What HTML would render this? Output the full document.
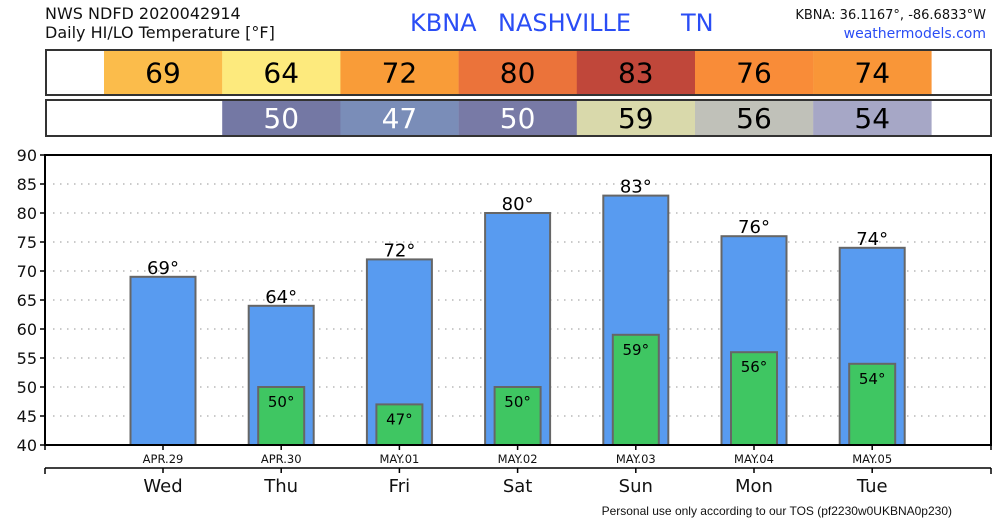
<!DOCTYPE html>
<html><head><meta charset="utf-8"><style>
body{margin:0;background:#fff;width:1000px;height:520px;overflow:hidden;font-family:"DejaVu Sans","Liberation Sans",sans-serif}
</style></head><body>
<svg width="1000" height="520" xmlns="http://www.w3.org/2000/svg" font-family="DejaVu Sans, Liberation Sans, sans-serif">
<text x="45" y="19" font-size="16" fill="#111">NWS NDFD 2020042914</text>
<text x="45" y="38" font-size="16" fill="#111">Daily HI/LO Temperature [°F]</text>
<text x="410" y="31" font-size="24" fill="#2a4df5">KBNA</text>
<text x="498" y="31" font-size="24" fill="#2a4df5">NASHVILLE</text>
<text x="681" y="31" font-size="24" fill="#2a4df5">TN</text>
<text x="986" y="19" font-size="13" fill="#111" text-anchor="end">KBNA: 36.1167°, -86.6833°W</text>
<text x="986" y="38" font-size="14" fill="#2a4df5" text-anchor="end">weathermodels.com</text>
<g id="boxes"></g>
<g id="plot"></g>
<text x="952" y="515" font-size="12" fill="#111" text-anchor="end" font-family="Liberation Sans, sans-serif">Personal use only according to our TOS (pf2230w0UKBNA0p230)</text>
</svg>
<script>
const days=["Wed","Thu","Fri","Sat","Sun","Mon","Tue"];
const dates=["APR.29","APR.30","MAY.01","MAY.02","MAY.03","MAY.04","MAY.05"];
const hi=[69,64,72,80,83,76,74];
const lo=[null,50,47,50,59,56,54];
const hiColors=["#fbbc4b","#fdea7d","#f99c38","#eb733a","#c0473a","#f98c38","#f99638"];
const loColors=[null,"#7478a4","#7a8db8","#787aa6","#d9d9ab","#c0c1b9","#a6a7c6"];
const yTicks=[40,45,50,55,60,65,70,75,80,85,90];
const NS="http://www.w3.org/2000/svg";
const L=45,R=991,T=155,B=445,yMin=40,yMax=90;
const y=v=>B-(v-yMin)/(yMax-yMin)*(B-T);
const xc=i=>163+i*118.2;
function mk(tag,attrs,parent,txt){const e=document.createElementNS(NS,tag);for(const k in attrs)e.setAttribute(k,attrs[k]);if(txt!==undefined)e.textContent=txt;parent.appendChild(e);return e;}
const boxes=document.getElementById('boxes'),plot=document.getElementById('plot');
// top tables
[[50,95,hi,hiColors,"#000","hi"],[100,136,lo,loColors,null,"lo"]].forEach(([t,b,vals,cols,tc,nm])=>{
  const fr=mk('rect',{x:46,y:t,width:945,height:b-t,fill:'#fff',stroke:'#333','stroke-width':2},boxes);
  
  
  vals.forEach((v,i)=>{if(v===null)return;
    const c=mk('rect',{x:xc(i)-59,y:t+1,width:118.4,height:b-t-2,fill:cols[i]},boxes);
    
    
    const light=(nm==="lo"&&i<4);
    const tx=mk('text',{x:xc(i),y:(t+b)/2+10,'font-size':28,'text-anchor':'middle',fill:light?'#fff':'#000'},boxes,v);
    
    
  });
});
// plot frame bg
const bg=mk('rect',{x:L,y:T,width:R-L,height:B-T,fill:'#fff'},plot);


yTicks.forEach(v=>{
  if(v>yMin&&v<yMax){const g=mk('line',{x1:L+8,x2:R,y1:y(v),y2:y(v),stroke:'#aaa','stroke-dasharray':'1.5,5.5','stroke-width':1.2},plot);
    
    }
  const tk=mk('line',{x1:L-5,x2:L,y1:y(v),y2:y(v),stroke:'#000','stroke-width':1.5},plot);
  
  
  const lb=mk('text',{x:L-8,y:y(v)+6,'font-size':16,'text-anchor':'end',fill:'#111'},plot,v);
  
  
});
days.forEach((d,i)=>{
  const cx=xc(i);
  const hb=mk('rect',{x:cx-32.5,y:y(hi[i]),width:65,height:B-y(hi[i]),fill:'#589bf0',stroke:'#666','stroke-width':2},plot);
  
  
  const ht=mk('text',{x:cx,y:y(hi[i])-3,'font-size':18,'text-anchor':'middle',fill:'#000'},plot,hi[i]+"°");
  
  
  if(lo[i]!==null){
    const lb=mk('rect',{x:cx-23,y:y(lo[i]),width:46,height:B-y(lo[i]),fill:'#3fc662',stroke:'#666','stroke-width':2},plot);
    
    
    const lt=mk('text',{x:cx,y:y(lo[i])+20,'font-size':15,'text-anchor':'middle',fill:'#000'},plot,lo[i]+"°");
    
    
  }
  const t1=mk('line',{x1:cx,x2:cx,y1:B,y2:B+5,stroke:'#000','stroke-width':1.5},plot);
  
  
  const dl=mk('text',{x:cx,y:B+18,'font-size':11.5,'text-anchor':'middle',fill:'#111'},plot,dates[i]);
  
  
  const t2=mk('line',{x1:cx,x2:cx,y1:468,y2:473,stroke:'#000','stroke-width':1.5},plot);
  
  
  const dy=mk('text',{x:cx,y:492,'font-size':18,'text-anchor':'middle',fill:'#111'},plot,d);
  
  
});
const fr=mk('rect',{x:L,y:T,width:R-L,height:B-T,fill:'none',stroke:'#000','stroke-width':2},plot);


[[L,R].forEach(x=>{const a=mk('line',{x1:x,x2:x,y1:B,y2:B+5,stroke:'#000','stroke-width':1.5},plot);
 const b=mk('line',{x1:x,x2:x,y1:468,y2:474,stroke:'#000','stroke-width':1.5},plot);})];
const ax2=mk('line',{x1:L,x2:R,y1:468,y2:468,stroke:'#000','stroke-width':1.5},plot);


</script>
</body></html>
